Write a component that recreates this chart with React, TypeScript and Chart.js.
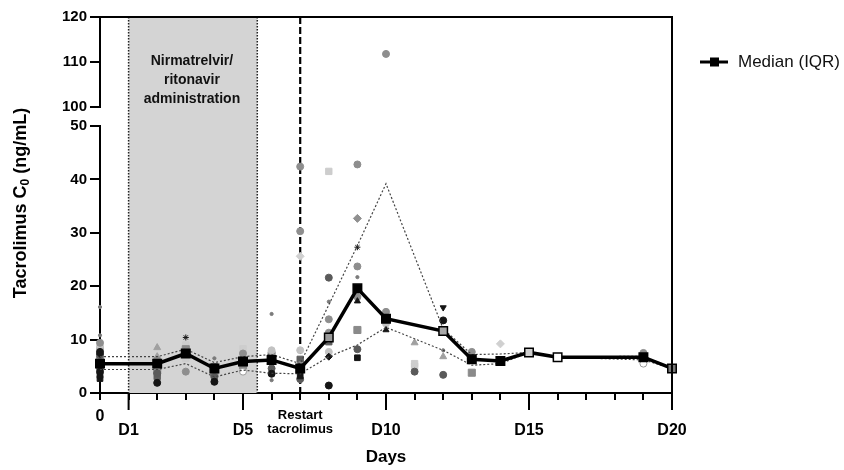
import React, { useEffect, useRef } from "react";
import { Chart, registerables } from "chart.js";

Chart.register(...registerables);

const FONT = '"Liberation Sans", Arial, Helvetica, sans-serif';

// ---- data ----
const days = [0, 2, 3, 4, 5, 6, 7, 8, 9, 10, 12, 13, 14, 15, 16, 19, 20];
const medianValues = [5.5, 5.5, 7.4, 4.6, 5.9, 6.2, 4.6, 10.4, 19.6, 13.9, 11.6, 6.3, 6.0, 7.6, 6.7, 6.7, 4.6];
const q3Values = [6.8, 6.8, 8.2, 5.7, 6.8, 7.2, 5.5, 16.5, 27.6, 39.2, 12.0, 7.2, 7.3, 7.6, 6.7, 6.9, 4.6];
const q1Values = [4.4, 4.4, 5.5, 3.0, 4.3, 3.7, 3.6, 6.8, 9.0, 12.3, 8.0, 5.2, 5.5, 7.6, 6.7, 6.2, 4.6];

type Pt = [number, number];
const blackCircles: Pt[] = [[0, 7.7], [0, 4.0], [2, 1.9], [4, 2.1], [8, 1.4], [12, 13.6], [6, 3.6]];
const blackSquares: Pt[] = [[0, 2.7], [0, 3.3], [9, 6.6], [7, 3.2]];
const blackTriangles: Pt[] = [[9, 17.2], [10, 11.8], [7, 4.1]];
const blackInvTriangles: Pt[] = [[12, 16.0]];
const blackStars: Pt[] = [[3, 10.4], [9, 27.3]];
const blackDiamonds: Pt[] = [[8, 6.8], [0, 7.3]];
const darkCircles: Pt[] = [[0, 7.1], [0, 4.7], [2, 3.7], [4, 3.0], [7, 2.6], [8, 21.6], [9, 8.2], [11, 4.0], [12, 3.4], [6, 4.6]];
const grayCircles: Pt[] = [[0, 9.4], [0, 5.0], [3, 4.0], [5, 7.4], [7, 42.4], [7, 30.3], [8, 13.8], [8, 11.3], [9, 42.8], [9, 23.7], [9, 18.0], [10, 15.2], [10, 14.3], [13, 7.7], [19, 7.5], [2, 6.2], [4, 4.3], [7, 5.2]];
const lightCircles: Pt[] = [[0, 8.7], [7, 8.0], [8, 10.2], [8, 7.7], [10, 13.0], [6, 8.0], [3, 7.4], [5, 6.5]];
const whiteCircles: Pt[] = [[2, 5.2], [5, 4.0], [19, 5.5], [0, 8.3]];
const graySquares: Pt[] = [[0, 6.2], [3, 8.2], [6, 7.1], [9, 11.8], [13, 3.8], [2, 4.3], [5, 5.2], [4, 3.7]];
const darkSquares: Pt[] = [[6, 6.3], [0, 5.6], [2, 3.1], [4, 4.9], [8, 9.6], [7, 6.3]];
const lightSquares: Pt[] = [[3, 9.0], [5, 8.3], [8, 41.5], [11, 5.5], [11, 5.0], [3, 6.5]];
const grayTriangles: Pt[] = [[2, 8.5], [11, 9.4], [12, 6.8], [2, 6.8]];
const grayDiamonds: Pt[] = [[9, 32.7]];
const lightDiamonds: Pt[] = [[7, 25.6], [14, 9.2]];
const smallDots: Pt[] = [[0, 10.8], [6, 14.8], [8, 17.1], [12, 8.0], [0, 16.1], [6, 2.4], [7, 2.2], [9, 21.7], [4, 6.5]];
const upperPoints: Pt[] = [[10, 111.8]];

const xTickLabels: Record<number, string | string[]> = {
  0: "0",
  1: ["", "D1"],
  5: ["", "D5"],
  7: ["Restart", "tacrolimus"],
  10: ["", "D10"],
  15: ["", "D15"],
  20: ["", "D20"],
};
const majorTickDays = [1, 5, 10, 15, 20];
const upperTicks = [100, 110, 120];
const treatmentStart = 1;
const treatmentEnd = 5.5;
const restartDay = 7;
const annotationLines = ["Nirmatrelvir/", "ritonavir", "administration"];
const legendLabel = "Median (IQR)";
const yTitleParts = ["Tacrolimus C", "0", " (ng/mL)"];
const xTitle = "Days";

// median marker fill by day (styling)
const medianFillByDay: Record<number, string> = { 8: "#9a9a9a", 12: "#a8a8a8", 15: "#cfcfcf", 16: "#ffffff", 20: "#777777" };

const toXY = (pts: Pt[]) => pts.map(([x, y]) => ({ x, y }));

const decorPlugin = {
  id: "decor",
  beforeDatasetsDraw(chart: any) {
    const { ctx, chartArea, scales } = chart;
    const xs = scales.x;
    const top = chartArea.top;
    const bottom = chartArea.bottom;
    const x1 = xs.getPixelForValue(treatmentStart);
    const x2 = xs.getPixelForValue(treatmentEnd);
    ctx.save();
    ctx.fillStyle = "#d4d4d4";
    ctx.fillRect(x1, top, x2 - x1, bottom - top);
    ctx.strokeStyle = "#222";
    ctx.lineWidth = 1.5;
    ctx.setLineDash([1.5, 1.5]);
    for (const xv of [x1, x2]) {
      ctx.beginPath();
      ctx.moveTo(xv, top);
      ctx.lineTo(xv, bottom);
      ctx.stroke();
    }
    const xr = xs.getPixelForValue(restartDay);
    ctx.setLineDash([7, 3]);
    ctx.lineWidth = 2.2;
    ctx.strokeStyle = "#000";
    ctx.beginPath();
    ctx.moveTo(xr, top);
    ctx.lineTo(xr, bottom);
    ctx.stroke();
    ctx.setLineDash([]);
    ctx.fillStyle = "#111";
    ctx.font = `bold 14px ${FONT}`;
    ctx.textAlign = "center";
    ctx.textBaseline = "alphabetic";
    const cx = (x1 + x2) / 2 - 1;
    annotationLines.forEach((t, i) => {
      ctx.fillText(t, cx, top + 47.5 + i * 19);
    });
    ctx.restore();
  },
  afterDraw(chart: any) {
    const { ctx, chartArea, scales } = chart;
    const { left, right, top, bottom } = chartArea;
    ctx.save();
    ctx.strokeStyle = "#000";
    ctx.lineWidth = 2;
    ctx.beginPath();
    ctx.moveTo(left - 1, top);
    ctx.lineTo(right + 1, top);
    ctx.stroke();
    ctx.beginPath();
    ctx.moveTo(right, top);
    ctx.lineTo(right, bottom + 17);
    ctx.stroke();
    const y2 = scales.y2;
    ctx.beginPath();
    ctx.moveTo(left, y2.getPixelForValue(upperTicks[upperTicks.length - 1]) - 1);
    ctx.lineTo(left, y2.getPixelForValue(upperTicks[0]) + 1);
    ctx.stroke();
    for (const d of majorTickDays) {
      const px = scales.x.getPixelForValue(d);
      ctx.beginPath();
      ctx.moveTo(px, bottom);
      ctx.lineTo(px, bottom + 17);
      ctx.stroke();
    }
    // y title with subscript
    ctx.fillStyle = "#000";
    ctx.translate(21, (top + bottom) / 2 - 2);
    ctx.rotate(-Math.PI / 2);
    ctx.textBaseline = "middle";
    ctx.textAlign = "left";
    const bigFont = `bold 18px ${FONT}`;
    const subFont = `bold 12px ${FONT}`;
    ctx.font = bigFont;
    const w1 = ctx.measureText(yTitleParts[0]).width;
    const w3 = ctx.measureText(yTitleParts[2]).width;
    ctx.font = subFont;
    const w2 = ctx.measureText(yTitleParts[1]).width;
    let sx = -(w1 + w2 + w3) / 2;
    ctx.font = bigFont;
    ctx.fillText(yTitleParts[0], sx, 0);
    sx += w1;
    ctx.font = subFont;
    ctx.fillText(yTitleParts[1], sx, 5);
    sx += w2;
    ctx.font = bigFont;
    ctx.fillText(yTitleParts[2], sx, 0);
    ctx.restore();

    // legend
    ctx.save();
    const ly = top + 45;
    const lx = right + 28;
    ctx.strokeStyle = "#000";
    ctx.lineWidth = 3;
    ctx.beginPath();
    ctx.moveTo(lx, ly);
    ctx.lineTo(lx + 28, ly);
    ctx.stroke();
    ctx.fillStyle = "#000";
    ctx.fillRect(lx + 10, ly - 4.5, 9, 9);
    ctx.font = `17px ${FONT}`;
    ctx.textBaseline = "middle";
    ctx.textAlign = "left";
    ctx.fillStyle = "#111";
    ctx.fillText(legendLabel, lx + 38, ly);
    ctx.restore();
  },
};

function scatterSet(pts: Pt[], style: any, color: string, radius: number, border = color, rotation = 0, yAxisID = "y") {
  return {
    type: "scatter" as const,
    data: toXY(pts),
    yAxisID,
    pointStyle: style,
    pointRadius: radius,
    pointRotation: rotation,
    pointBackgroundColor: color,
    pointBorderColor: border,
    pointBorderWidth: 1,
    showLine: false,
    clip: false as any,
    order: 3,
  };
}

export default function App() {
  const canvasRef = useRef<HTMLCanvasElement | null>(null);

  useEffect(() => {
    if (!canvasRef.current) return;
    const tickFont = (ctx: any) =>
      ctx.tick && Math.round(ctx.tick.value) === restartDay
        ? { family: FONT, size: 13, weight: "bold", lineHeight: 1.05 }
        : { family: FONT, size: 16, weight: "bold", lineHeight: 0.9 };

    const chart = new Chart(canvasRef.current, {
      type: "line",
      data: {
        datasets: [
          {
            label: legendLabel,
            data: days.map((d, i) => ({ x: d, y: medianValues[i] })),
            borderColor: "#000",
            borderWidth: 3.5,
            pointStyle: "rect",
            pointRadius: 6,
            pointBackgroundColor: days.map((d) => medianFillByDay[d] ?? "#000"),
            pointBorderColor: "#000",
            pointBorderWidth: 1.5,
            tension: 0,
            clip: false as any,
            order: 0,
            yAxisID: "y",
          },
          {
            label: "Q3",
            data: days.map((d, i) => ({ x: d, y: q3Values[i] })),
            borderColor: "#444",
            borderWidth: 1.2,
            borderDash: [2, 2],
            pointRadius: 0,
            tension: 0,
            order: 1,
            yAxisID: "y",
          },
          {
            label: "Q1",
            data: days.map((d, i) => ({ x: d, y: q1Values[i] })),
            borderColor: "#444",
            borderWidth: 1.2,
            borderDash: [2, 2],
            pointRadius: 0,
            tension: 0,
            order: 1,
            yAxisID: "y",
          },
          scatterSet(blackCircles, "circle", "#151515", 3.5),
          scatterSet(blackSquares, "rect", "#151515", 4),
          scatterSet(blackTriangles, "triangle", "#151515", 3.5),
          scatterSet(blackInvTriangles, "triangle", "#151515", 3.5, "#151515", 180),
          scatterSet(blackStars, "star", "#151515", 3),
          scatterSet(blackDiamonds, "rectRot", "#151515", 3.5),
          scatterSet(darkCircles, "circle", "#5a5a5a", 3.5),
          scatterSet(grayCircles, "circle", "#8e8e8e", 3.5),
          scatterSet(lightCircles, "circle", "#c2c2c2", 3.5),
          scatterSet(whiteCircles, "circle", "#ffffff", 3.5, "#9a9a9a"),
          scatterSet(graySquares, "rect", "#8a8a8a", 5),
          scatterSet(darkSquares, "rect", "#5e5e5e", 4.5),
          scatterSet(lightSquares, "rect", "#cdcdcd", 4.5),
          scatterSet(grayTriangles, "triangle", "#a0a0a0", 4),
          scatterSet(grayDiamonds, "rectRot", "#909090", 4),
          scatterSet(lightDiamonds, "rectRot", "#d0d0d0", 4),
          scatterSet(smallDots, "circle", "#7a7a7a", 1.6),
          scatterSet(upperPoints, "circle", "#8e8e8e", 3.5, "#8e8e8e", 0, "y2"),
        ] as any,
      },
      options: {
        animation: false,
        responsive: false,
        maintainAspectRatio: false,
        events: [],
        layout: { padding: { left: 0, right: 172, top: 17, bottom: 0 } },
        plugins: {
          legend: { display: false },
          tooltip: { enabled: false },
        },
        scales: {
          x: {
            type: "linear",
            min: 0,
            max: 20,
            ticks: {
              stepSize: 1,
              autoSkip: false,
              maxRotation: 0,
              minRotation: 0,
              padding: 9,
              color: "#000",
              callback: (v: any) => xTickLabels[Math.round(Number(v))] ?? "",
              font: tickFont as any,
            },
            grid: { display: true, drawOnChartArea: false, drawTicks: true, tickLength: 7, color: "#000", lineWidth: 2 },
            border: { display: true, color: "#000", width: 2 },
            title: {
              display: true,
              text: xTitle,
              color: "#000",
              font: { family: FONT, size: 17, weight: "bold", lineHeight: 1.2 },
              padding: { top: 0, bottom: 2 },
            },
            afterFit: (s: any) => {
              s.height = 77;
            },
          },
          y: {
            type: "linear",
            position: "left",
            stack: "yAxis",
            stackWeight: 267,
            min: 0,
            max: 50,
            ticks: { stepSize: 10, padding: 3, color: "#000", font: { family: FONT, size: 15, weight: "bold" } },
            grid: { display: true, drawOnChartArea: false, drawTicks: true, tickLength: 10, color: "#000", lineWidth: 2 },
            border: { display: true, color: "#000", width: 2 },
            afterFit: (s: any) => {
              s.width = 100;
            },
          },
          y2: {
            type: "linear",
            position: "left",
            stack: "yAxis",
            stackWeight: 109,
            min: 95.8,
            max: 120,
            afterBuildTicks: (s: any) => {
              s.ticks = upperTicks.map((v) => ({ value: v }));
            },
            ticks: { padding: 3, color: "#000", font: { family: FONT, size: 15, weight: "bold" } },
            grid: { display: true, drawOnChartArea: false, drawTicks: true, tickLength: 10, color: "#000", lineWidth: 2 },
            border: { display: false },
            afterFit: (s: any) => {
              s.width = 100;
            },
          },
        } as any,
      },
      plugins: [decorPlugin],
    });
    return () => chart.destroy();
  }, []);

  return (
    <div style={{ position: "absolute", left: 0, top: 0, width: 844, height: 470, background: "#fff" }}>
      <canvas ref={canvasRef} width={844} height={470} style={{ display: "block" }} />
    </div>
  );
}
